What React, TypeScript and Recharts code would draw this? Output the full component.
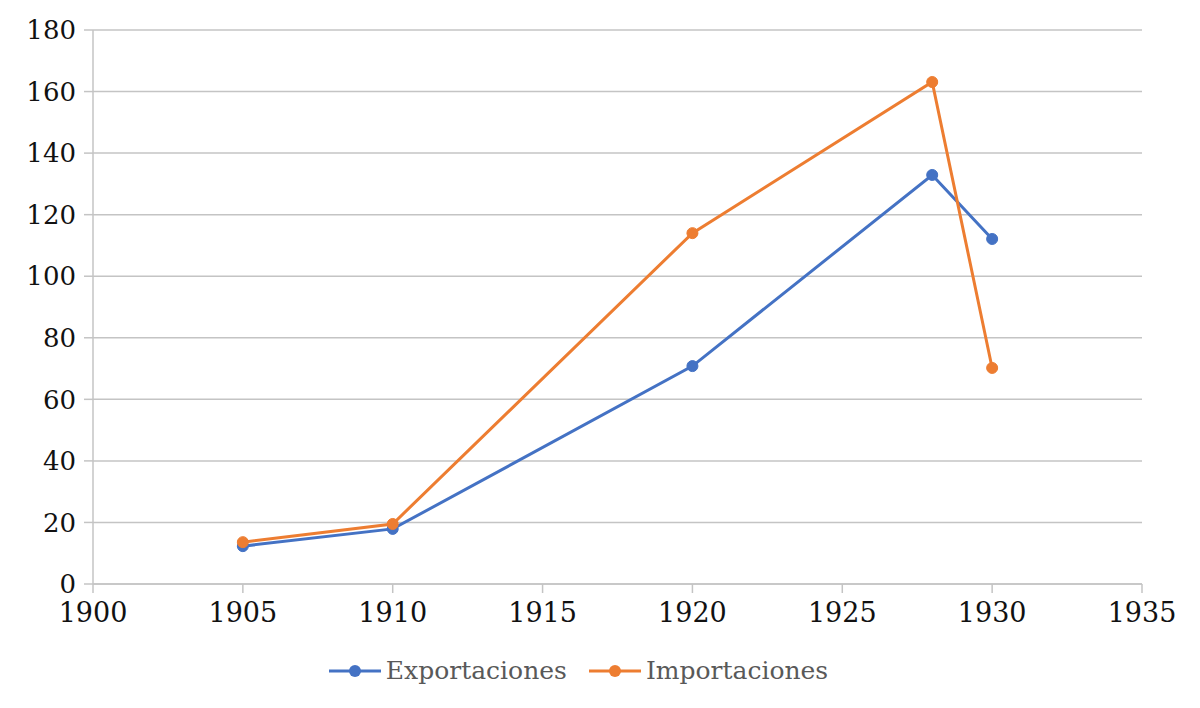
import React from "react";
import { LineChart, Line, XAxis, YAxis, CartesianGrid, Legend } from "recharts";

const years = [1905, 1910, 1920, 1928, 1930];
const exportaciones = [12.3, 17.9, 70.8, 132.9, 112.1];
const importaciones = [13.6, 19.5, 114.0, 163.1, 70.2];
const xTicks = [1900, 1905, 1910, 1915, 1920, 1925, 1930, 1935];
const yTicks = [0, 20, 40, 60, 80, 100, 120, 140, 160, 180];

const BLUE = "#4472C4";
const ORANGE = "#ED7D31";
const GRID = "#c4c4c4";
const FONT = "'DejaVu Serif', serif";

const data = years.map((year, i) => ({
  year,
  exp: exportaciones[i],
  imp: importaciones[i],
}));

const legendItems = [
  { name: "Exportaciones", color: BLUE },
  { name: "Importaciones", color: ORANGE },
];

function LegendContent() {
  return (
    <div style={{ display: "flex", justifyContent: "center", alignItems: "center", gap: 20 }}>
      {legendItems.map((it) => (
        <div key={it.name} style={{ display: "flex", alignItems: "center" }}>
          <svg width={56} height={16}>
            <line x1={2} y1={8} x2={54} y2={8} stroke={it.color} strokeWidth={3} />
            <circle cx={28} cy={8} r={6} fill={it.color} />
          </svg>
          <span style={{ fontFamily: FONT, fontSize: 25, color: "#595959", marginLeft: 3 }}>{it.name}</span>
        </div>
      ))}
    </div>
  );
}

export default function App() {
  return (
    <div style={{ position: "fixed", left: 0, top: 0, width: 1200, height: 708, background: "#fff" }}>
      <LineChart width={1200} height={708} data={data} margin={{ top: 30, right: 58, left: 13, bottom: 44 }}>
        <CartesianGrid vertical={false} stroke={GRID} strokeWidth={1.5} />
        <XAxis
          dataKey="year"
          type="number"
          domain={[1900, 1935]}
          ticks={xTicks}
          height={40}
          stroke={GRID}
          strokeWidth={1.5}
          tickSize={9}
          tick={{ fill: "#111", fontSize: 27, fontFamily: FONT }}
          tickMargin={10}
        />
        <YAxis
          type="number"
          domain={[0, 180]}
          ticks={yTicks}
          width={80}
          stroke={GRID}
          strokeWidth={1.5}
          tickSize={9}
          tick={{ fill: "#111", fontSize: 26, fontFamily: FONT }}
          tickMargin={8}
        />
        <Legend verticalAlign="bottom" height={40} wrapperStyle={{ bottom: 12 }} content={<LegendContent />} />
        <Line
          dataKey="exp"
          name="Exportaciones"
          stroke={BLUE}
          strokeWidth={3}
          dot={{ r: 5.5, fill: BLUE, stroke: BLUE, strokeWidth: 1 }}
          isAnimationActive={false}
        />
        <Line
          dataKey="imp"
          name="Importaciones"
          stroke={ORANGE}
          strokeWidth={3}
          dot={{ r: 5.5, fill: ORANGE, stroke: ORANGE, strokeWidth: 1 }}
          isAnimationActive={false}
        />
      </LineChart>
    </div>
  );
}
